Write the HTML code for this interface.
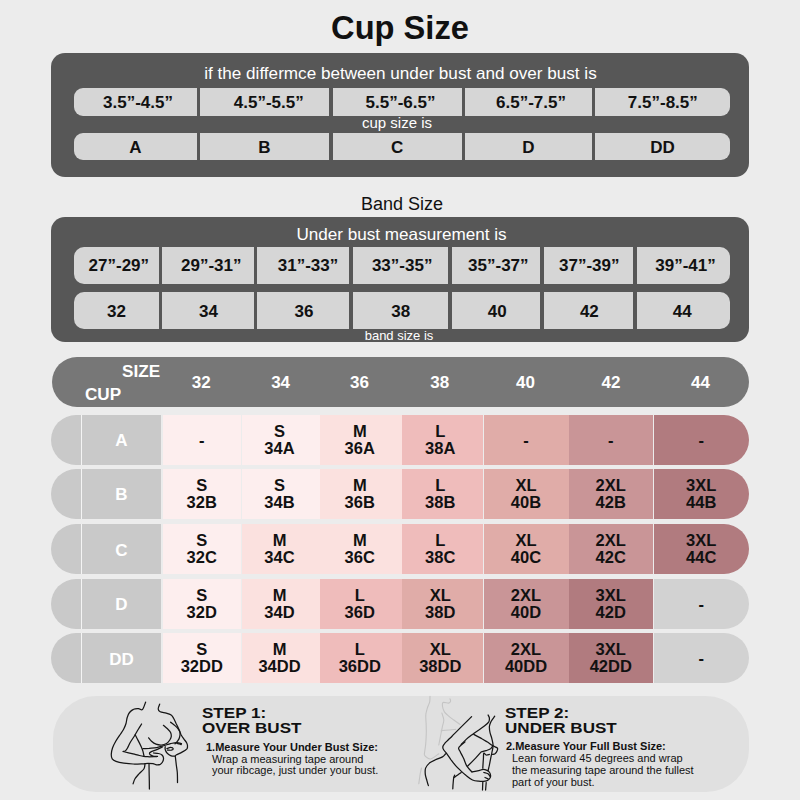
<!DOCTYPE html>
<html><head><meta charset="utf-8"><style>
*{margin:0;padding:0;box-sizing:border-box}
html,body{width:800px;height:800px;overflow:hidden;background:#ececec}
body{position:relative;font-family:"Liberation Sans",Arial,sans-serif;color:#111}
.a{position:absolute}
.t{position:absolute;white-space:nowrap;line-height:1}
.panel{position:absolute;background:#575757;border-radius:14px}
.c{position:absolute;background:#d6d6d6;display:flex;align-items:center;justify-content:center;font-weight:bold;font-size:17px;color:#111}
.w{color:#fff}
.hd{position:absolute;background:#777777;border-radius:25px}
.hn{position:absolute;top:370.6px;font-weight:bold;font-size:17px;color:#fff;width:60px;text-align:center;line-height:24px}
.row{position:absolute;left:51px;width:698px;height:50px}
.lb{position:absolute;left:0;top:0;width:110px;height:50px;background:#c9c9c9;border-radius:25px 0 0 25px}
.lbt{position:absolute;left:31px;top:0;width:79px;height:50px;display:flex;align-items:center;justify-content:center;color:#fff;font-weight:bold;font-size:17px}
.ln{position:absolute;left:30px;top:0;width:1px;height:50px;background:#f4f4f4}
.k{position:absolute;top:0;height:50px;display:flex;align-items:center;justify-content:center;text-align:center;font-weight:bold;font-size:16.5px;line-height:16.6px;color:#111}
.pill{position:absolute;left:52.5px;top:695.5px;width:696px;height:96.3px;background:#e0e0e0;border-radius:43px}
</style></head><body>

<div class="t" style="left:0;width:800px;text-align:center;top:9.5px;font-size:34px;font-weight:bold;transform:scaleX(0.96)">Cup Size</div>
<div class="panel" style="left:51px;top:53px;width:698px;height:124px"></div>
<div class="t w" style="left:0;width:801px;text-align:center;top:65.1px;font-size:17.12px">if the differmce between under bust and over bust is</div>
<div class="c" style="left:74px;top:88px;width:123px;height:27.5px;border-radius:9px 0 0 9px;padding:2px 0 0 5px">3.5”-4.5”</div>
<div class="c" style="left:200px;top:88px;width:129px;height:27.5px;padding:2px 0 0 5px"><span style="position:relative;left:1.8px">4.5”-5.5”</span></div>
<div class="c" style="left:332.5px;top:88px;width:129.5px;height:27.5px;padding:2px 0 0 5px"><span style="position:relative;left:0.8px">5.5”-6.5”</span></div>
<div class="c" style="left:465px;top:88px;width:127px;height:27.5px;padding:2px 0 0 5px">6.5”-7.5”</div>
<div class="c" style="left:595px;top:88px;width:135px;height:27.5px;border-radius:0 9px 9px 0;padding:2px 0 0 5px"><span style="position:relative;left:-2.2px">7.5”-8.5”</span></div>
<div class="t w" style="left:0;width:794px;text-align:center;top:115.3px;font-size:15px">cup size is</div>
<div class="c" style="left:74px;top:132.5px;width:123px;height:27.5px;border-radius:9px 0 0 9px;padding-top:4px">A</div>
<div class="c" style="left:200px;top:132.5px;width:129px;height:27.5px;padding-top:4px">B</div>
<div class="c" style="left:332.5px;top:132.5px;width:129.5px;height:27.5px;padding-top:4px">C</div>
<div class="c" style="left:465px;top:132.5px;width:127px;height:27.5px;padding-top:4px">D</div>
<div class="c" style="left:595px;top:132.5px;width:135px;height:27.5px;border-radius:0 9px 9px 0;padding-top:4px">DD</div>
<div class="t" style="left:0;width:804px;text-align:center;top:195.4px;font-size:18px">Band Size</div>
<div class="panel" style="left:51px;top:217px;width:698px;height:124.5px"></div>
<div class="t w" style="left:0;width:803px;text-align:center;top:226.1px;font-size:17.12px">Under bust measurement is</div>
<div class="c" style="left:74px;top:247px;width:85px;height:37px;border-radius:10px 0 0 10px;padding:1px 0 0 3px"><span style="position:relative;left:0.85px">27”-29”</span></div>
<div class="c" style="left:162px;top:247px;width:92px;height:37px;padding:1px 0 0 3px"><span style="position:relative;left:1.8px">29”-31”</span></div>
<div class="c" style="left:257px;top:247px;width:92.30000000000001px;height:37px;padding:1px 0 0 3px"><span style="position:relative;left:3.4px">31”-33”</span></div>
<div class="c" style="left:353px;top:247px;width:95.30000000000001px;height:37px;padding:1px 0 0 3px">33”-35”</div>
<div class="c" style="left:451.7px;top:247px;width:88.30000000000001px;height:37px;padding:1px 0 0 3px"><span style="position:relative;left:1px">35”-37”</span></div>
<div class="c" style="left:544px;top:247px;width:89px;height:37px;padding:1px 0 0 3px"><span style="position:relative;left:-0.75px">37”-39”</span></div>
<div class="c" style="left:637px;top:247px;width:93px;height:37px;border-radius:0 10px 10px 0;padding:1px 0 0 3px"><span style="position:relative;left:0.5px">39”-41”</span></div>
<div class="c" style="left:74px;top:292.3px;width:85px;height:36.6px;border-radius:10px 0 0 10px;padding-top:3px">32</div>
<div class="c" style="left:162px;top:292.3px;width:92px;height:36.6px;padding-top:3px"><span style="position:relative;left:0.5px">34</span></div>
<div class="c" style="left:257px;top:292.3px;width:92.30000000000001px;height:36.6px;padding-top:3px"><span style="position:relative;left:0.9px">36</span></div>
<div class="c" style="left:353px;top:292.3px;width:95.30000000000001px;height:36.6px;padding-top:3px">38</div>
<div class="c" style="left:451.7px;top:292.3px;width:88.30000000000001px;height:36.6px;padding-top:3px"><span style="position:relative;left:1.35px">40</span></div>
<div class="c" style="left:544px;top:292.3px;width:89px;height:36.6px;padding-top:3px"><span style="position:relative;left:0.85px">42</span></div>
<div class="c" style="left:637px;top:292.3px;width:93px;height:36.6px;border-radius:0 10px 10px 0;padding-top:3px"><span style="position:relative;left:-1.35px">44</span></div>
<div class="t w" style="left:0;width:798px;text-align:center;top:328.75px;font-size:13px">band size is</div>
<div class="hd" style="left:52px;top:357px;width:697px;height:49.5px"></div>
<div class="t w" style="left:122px;top:364.4px;font-size:16px;font-weight:bold;transform:scaleX(1.07);transform-origin:0 0">SIZE</div>
<div class="t w" style="left:84.8px;top:387.0px;font-size:16px;font-weight:bold;transform:scaleX(1.07);transform-origin:0 0">CUP</div>
<div class="hn" style="left:171.3px">32</div>
<div class="hn" style="left:250.60000000000002px">34</div>
<div class="hn" style="left:329.4px">36</div>
<div class="hn" style="left:409.8px">38</div>
<div class="hn" style="left:495.5px">40</div>
<div class="hn" style="left:580.9px">42</div>
<div class="hn" style="left:670.5px">44</div>
<div class="row" style="top:415px">
<div class="lb"></div><div class="ln"></div><div class="lbt" style="padding-top:2px">A</div>
<div class="k" style="left:111.5px;width:78.5px;background:#fdeeee;">-</div>
<div class="k" style="left:191px;width:78px;background:#fdeeee;padding-right:3.0px;">S<br>34A</div>
<div class="k" style="left:269px;width:81.5px;background:#fbe1df;padding-right:2px;">M<br>36A</div>
<div class="k" style="left:351px;width:80.5px;background:#efbcbb;padding-right:4px;">L<br>38A</div>
<div class="k" style="left:432.5px;width:85.0px;background:#e0aca8;">-</div>
<div class="k" style="left:517.5px;width:84.5px;background:#c99597;">-</div>
<div class="k" style="left:603px;width:94.5px;background:#b17b7f;border-radius:0 25px 25px 0;">-</div>
</div>
<div class="row" style="top:469px">
<div class="lb"></div><div class="ln"></div><div class="lbt" style="padding-top:2px">B</div>
<div class="k" style="left:111.5px;width:78.5px;background:#fdeeee;">S<br>32B</div>
<div class="k" style="left:191px;width:78px;background:#fdeeee;padding-right:3.0px;">S<br>34B</div>
<div class="k" style="left:269px;width:81.5px;background:#fbe1df;padding-right:2px;">M<br>36B</div>
<div class="k" style="left:351px;width:80.5px;background:#efbcbb;padding-right:4px;">L<br>38B</div>
<div class="k" style="left:432.5px;width:85.0px;background:#e0aca8;">XL<br>40B</div>
<div class="k" style="left:517.5px;width:84.5px;background:#c99597;">2XL<br>42B</div>
<div class="k" style="left:603px;width:94.5px;background:#b17b7f;border-radius:0 25px 25px 0;">3XL<br>44B</div>
</div>
<div class="row" style="top:524px">
<div class="lb"></div><div class="ln"></div><div class="lbt" style="padding-top:4px">C</div>
<div class="k" style="left:111.5px;width:78.5px;background:#fdeeee;">S<br>32C</div>
<div class="k" style="left:191px;width:78px;background:#fbe1df;padding-right:3.0px;">M<br>34C</div>
<div class="k" style="left:269px;width:81.5px;background:#fbe1df;padding-right:2px;">M<br>36C</div>
<div class="k" style="left:351px;width:80.5px;background:#efbcbb;padding-right:4px;">L<br>38C</div>
<div class="k" style="left:432.5px;width:85.0px;background:#e0aca8;">XL<br>40C</div>
<div class="k" style="left:517.5px;width:84.5px;background:#c99597;">2XL<br>42C</div>
<div class="k" style="left:603px;width:94.5px;background:#b17b7f;border-radius:0 25px 25px 0;">3XL<br>44C</div>
</div>
<div class="row" style="top:579px">
<div class="lb"></div><div class="ln"></div><div class="lbt" style="padding-top:2px">D</div>
<div class="k" style="left:111.5px;width:78.5px;background:#fdeeee;">S<br>32D</div>
<div class="k" style="left:191px;width:78px;background:#fbe1df;padding-right:3.0px;">M<br>34D</div>
<div class="k" style="left:269px;width:81.5px;background:#efbcbb;padding-right:2px;">L<br>36D</div>
<div class="k" style="left:351px;width:80.5px;background:#e0aca8;padding-right:4px;">XL<br>38D</div>
<div class="k" style="left:432.5px;width:85.0px;background:#c99597;">2XL<br>40D</div>
<div class="k" style="left:517.5px;width:84.5px;background:#b17b7f;">3XL<br>42D</div>
<div class="k" style="left:603px;width:94.5px;background:#d2d2d2;border-radius:0 25px 25px 0;">-</div>
</div>
<div class="row" style="top:633px">
<div class="lb"></div><div class="ln"></div><div class="lbt" style="padding-top:4px">DD</div>
<div class="k" style="left:111.5px;width:78.5px;background:#fdeeee;">S<br>32DD</div>
<div class="k" style="left:191px;width:78px;background:#fbe1df;padding-right:3.0px;">M<br>34DD</div>
<div class="k" style="left:269px;width:81.5px;background:#efbcbb;padding-right:2px;">L<br>36DD</div>
<div class="k" style="left:351px;width:80.5px;background:#e0aca8;padding-right:4px;">XL<br>38DD</div>
<div class="k" style="left:432.5px;width:85.0px;background:#c99597;">2XL<br>40DD</div>
<div class="k" style="left:517.5px;width:84.5px;background:#b17b7f;">3XL<br>42DD</div>
<div class="k" style="left:603px;width:94.5px;background:#d2d2d2;border-radius:0 25px 25px 0;">-</div>
</div>
<div class="pill"></div>
<div class="t" style="left:201.6px;top:705.3px;font-size:15.5px;font-weight:bold;line-height:15px;transform:scaleX(1.1);transform-origin:0 0">STEP 1:<br>OVER BUST</div>
<div class="t" style="left:206px;top:741.5px;font-size:11px;font-weight:bold;line-height:11.5px">1.Measure Your Under Bust Size:</div>
<div class="t" style="left:212px;top:754.2px;font-size:11px;line-height:11.3px">Wrap a measuring tape around<br>your ribcage, just under your bust.</div>
<div class="t" style="left:505.4px;top:705.3px;font-size:15.5px;font-weight:bold;line-height:15px;transform:scaleX(1.1);transform-origin:0 0">STEP 2:<br>UNDER BUST</div>
<div class="t" style="left:506px;top:740.5px;font-size:11px;font-weight:bold;line-height:11.7px">2.Measure Your Full Bust Size:</div>
<div class="t" style="left:512px;top:753.2px;font-size:11px;line-height:11.7px">Lean forward 45 degrees and wrap<br>the measuring tape around the fullest<br>part of your bust.</div>
<svg class="a" style="left:0;top:0" width="800" height="800" viewBox="0 0 800 800" fill="none" stroke-linecap="round" stroke-linejoin="round">
<g stroke="#c4c4c4" stroke-width="1.1">
<path d="M430.0 696.2C429.9 697.2 430.1 700.0 429.7 701.9C429.3 703.8 428.1 705.5 427.5 707.5C426.9 709.5 426.2 711.7 425.9 713.8C425.6 715.8 425.8 717.9 425.9 720.0C426.0 722.1 426.2 723.6 426.2 726.2C426.3 728.9 426.4 732.5 426.2 735.6C426.1 738.7 425.9 742.4 425.6 745.0C425.3 747.6 424.9 749.8 424.7 751.5C424.5 753.2 424.1 754.0 424.5 755.0C424.9 756.0 425.8 756.9 426.9 757.5C428.0 758.1 429.3 759.4 431.2 758.8C433.2 758.1 437.5 754.6 438.8 753.8"/>
<path d="M450.0 698.8C450.1 699.2 450.8 700.5 450.6 701.2C450.4 702.0 450.0 702.9 448.8 703.1C447.5 703.3 444.1 702.0 443.1 702.5C442.1 703.0 442.3 704.7 442.5 706.2C442.7 707.8 443.4 710.2 444.4 711.9C445.4 713.6 447.2 714.9 448.8 716.2C450.3 717.6 451.9 718.6 453.8 720.0C455.6 721.4 459.0 723.7 460.0 724.4"/>
<path d="M441.9 713.1C442.2 714.2 443.6 717.8 443.8 720.0C443.9 722.2 442.9 724.2 442.5 726.2C442.1 728.3 441.7 730.4 441.2 732.5C440.8 734.6 440.4 736.7 440.0 738.8C439.6 740.8 439.0 744.0 438.8 745.0"/>
<path d="M441.2 730.6C442.6 730.5 447.0 730.2 449.4 730.0C451.8 729.8 454.6 729.5 455.6 729.4"/>
<path d="M421.5 768.0C421.2 769.2 420.4 772.4 420.0 775.0C419.6 777.6 419.0 782.3 418.8 783.8"/>
</g><g stroke="#151515" stroke-width="1.25">
<path d="M145.6 702.2C145.1 703.4 143.6 708.5 142.4 709.6C141.2 710.7 140.0 708.7 138.5 708.6C137.0 708.5 135.0 708.6 133.5 709.3C132.0 709.9 130.6 711.1 129.5 712.5C128.4 713.9 127.8 715.7 127.2 717.5C126.6 719.3 126.6 721.5 126.0 723.5C125.4 725.5 124.6 727.5 123.5 729.5C122.4 731.5 120.7 733.6 119.4 735.6C118.1 737.6 116.8 739.4 115.6 741.5C114.4 743.6 113.2 745.9 112.5 748.0C111.8 750.1 111.3 752.2 111.3 754.0C111.2 755.8 111.4 757.6 112.2 758.8C113.0 760.0 114.1 760.7 116.0 761.4C117.9 762.1 120.9 762.7 123.8 763.1C126.6 763.5 130.0 763.9 133.1 764.0C136.2 764.1 140.0 763.9 142.5 763.8C145.0 763.7 146.2 763.4 148.0 763.4C149.8 763.4 151.6 763.4 153.0 763.6C154.4 763.8 155.3 764.7 156.5 764.8C157.7 764.9 159.1 764.9 160.2 764.4C161.2 763.9 162.2 762.6 162.8 761.5C163.4 760.4 163.6 759.1 163.5 758.0C163.4 756.9 162.8 755.8 162.0 755.0C161.2 754.2 159.9 753.8 158.5 753.5C157.1 753.2 154.3 753.1 153.5 753.0"/>
<path d="M141.6 724.0C141.1 724.8 139.6 727.2 138.5 729.0C137.4 730.8 136.3 732.8 135.0 735.0C133.7 737.2 131.8 739.8 130.5 742.0C129.2 744.2 128.3 746.6 127.5 748.0C126.7 749.4 126.3 750.0 125.6 750.6C124.9 751.2 123.6 751.4 123.2 751.5"/>
<path d="M135.2 734.8C135.7 735.8 137.2 738.7 138.2 740.6C139.2 742.5 140.2 744.5 141.0 746.2C141.8 748.0 142.4 749.5 142.9 751.1C143.4 752.7 143.8 755.2 144.0 756.0"/>
<path d="M123.2 751.5C124.8 751.9 130.6 753.3 133.1 753.9C135.6 754.5 136.4 754.8 138.2 755.2C139.9 755.6 141.8 756.1 143.6 756.4C145.4 756.7 147.1 756.7 149.2 756.8C151.4 756.8 155.5 756.6 156.8 756.6"/>
<path d="M151.5 751.6C151.2 751.8 149.8 752.3 149.6 752.8C149.4 753.3 149.6 754.3 150.2 754.8C150.8 755.3 151.8 755.7 153.0 756.0C154.2 756.3 156.8 756.3 157.5 756.4"/>
<path d="M142.9 748.5C144.0 748.5 146.9 748.4 149.2 748.3C151.6 748.1 154.2 748.1 156.8 747.6C159.2 747.1 161.9 746.2 164.2 745.5C166.6 744.8 168.5 744.1 170.6 743.6C172.7 743.1 175.1 742.5 176.9 742.5C178.7 742.5 180.7 743.3 181.5 743.5"/>
<path d="M151.5 751.5C152.4 751.2 154.9 750.4 156.8 749.6C158.6 748.9 161.5 747.4 162.4 747.0"/>
<path d="M159.7 704.1C159.4 704.9 158.1 707.7 158.2 709.0C158.3 710.3 158.9 711.1 160.2 711.8C161.5 712.5 164.4 712.6 166.2 713.1C168.1 713.6 170.0 714.1 171.2 715.0C172.5 715.9 172.8 716.8 173.6 718.3C174.4 719.8 175.3 721.8 176.2 723.8C177.2 725.7 178.4 728.1 179.2 730.0C180.0 731.9 180.5 733.5 181.2 735.0C182.0 736.5 182.9 737.6 183.8 738.9C184.6 740.1 185.9 741.4 186.5 742.5C187.1 743.6 187.4 744.5 187.5 745.5C187.6 746.5 187.7 747.7 186.9 748.8C186.1 749.8 184.3 750.9 182.5 751.9C180.7 752.9 177.6 754.3 176.2 755.0C174.9 755.7 175.3 756.1 174.4 756.2C173.5 756.3 171.8 756.1 170.6 755.6C169.4 755.1 167.9 754.0 167.0 753.0C166.1 752.0 165.5 750.6 165.2 749.5C164.9 748.4 165.2 747.0 165.2 746.5"/>
<path d="M170.6 722.2C171.3 722.8 173.8 724.5 175.0 725.6C176.2 726.7 177.3 727.6 178.1 728.8C178.9 729.9 179.8 731.0 180.0 732.5C180.2 734.0 179.9 736.0 179.5 737.5C179.1 739.0 178.2 740.2 177.5 741.2C176.8 742.2 175.4 743.4 175.0 743.8"/>
<path d="M163.4 725.3C164.1 725.9 166.3 727.6 167.5 728.8C168.7 730.0 170.0 731.2 170.6 732.5C171.2 733.8 171.4 735.0 171.3 736.3C171.2 737.5 170.6 738.8 169.8 740.0C169.0 741.2 167.9 742.7 166.5 743.5C165.1 744.3 163.2 744.9 161.5 745.0C159.8 745.1 157.7 744.8 156.0 744.2C154.3 743.6 152.7 742.3 151.5 741.2C150.3 740.1 149.1 738.4 148.6 737.8"/>
<path d="M166.9 748.6C167.5 748.4 169.6 747.4 170.6 747.4C171.6 747.4 173.1 748.1 173.2 748.6C173.3 749.1 172.3 750.0 171.4 750.2C170.5 750.4 168.2 750.0 167.5 750.0"/>
<path d="M176.9 743.4C177.3 743.5 178.8 743.6 179.5 743.8C180.2 744.0 181.0 744.5 181.3 744.6"/>
<path d="M175.3 756.3C175.5 757.8 176.0 762.3 176.3 765.0C176.6 767.7 177.1 769.6 177.3 772.5C177.5 775.4 177.5 780.8 177.5 782.5"/>
<path d="M145.0 763.8C144.8 764.6 145.0 767.1 144.0 768.8C143.0 770.5 140.5 772.1 139.0 773.8C137.5 775.5 136.0 777.1 135.0 778.8C134.0 780.5 133.4 783.0 133.1 783.8"/>
<path d="M149.0 763.8C149.0 765.8 149.1 771.8 149.2 776.0C149.3 780.2 149.4 786.8 149.4 789.0"/>
<path d="M471.6 716.6C469.7 718.5 463.3 724.8 460.0 728.1C456.7 731.4 454.0 734.2 452.0 736.2C450.0 738.2 449.4 738.7 448.1 740.0C446.8 741.3 445.3 742.6 444.4 743.8C443.5 744.9 442.9 745.9 442.8 746.9C442.7 747.9 443.1 748.9 443.8 750.0C444.4 751.1 445.6 752.1 446.9 753.8C448.1 755.4 449.8 758.0 451.2 760.0C452.7 762.0 454.0 763.8 455.6 765.6C457.2 767.4 458.8 768.9 460.6 770.6C462.4 772.3 464.3 774.0 466.2 775.6C468.2 777.2 470.4 779.1 472.5 780.0C474.6 780.9 476.7 781.0 478.8 781.2C480.8 781.5 483.5 781.4 485.0 781.2C486.5 781.1 487.0 780.8 487.8 780.3C488.6 779.8 489.5 778.8 490.0 778.0C490.5 777.2 490.7 776.4 490.6 775.5C490.5 774.6 490.2 773.4 489.6 772.5C489.0 771.6 488.1 770.9 487.0 770.4C485.9 769.9 484.5 769.4 483.1 769.4C481.7 769.4 480.6 770.2 478.8 770.6C476.9 771.0 473.0 771.7 471.9 771.9"/>
<path d="M488.1 715.0C488.3 715.5 489.3 717.0 489.4 718.1C489.5 719.2 489.5 720.6 488.8 721.9C488.0 723.1 486.7 724.2 485.0 725.6C483.3 727.0 480.8 728.5 478.8 730.0C476.7 731.5 474.6 732.8 472.5 734.4C470.4 736.0 468.1 737.7 466.2 739.4C464.4 741.1 462.1 743.6 461.2 744.4"/>
<path d="M473.8 734.4C475.1 735.1 479.7 737.5 481.9 738.8C484.1 740.0 485.2 740.7 487.0 741.8C488.8 742.9 490.8 744.5 492.5 745.6C494.2 746.7 496.8 747.2 497.5 748.1C498.2 749.0 497.3 750.3 496.9 751.2C496.5 752.2 495.7 753.2 495.0 753.8C494.3 754.3 492.9 754.3 492.5 754.4"/>
<path d="M494.7 716.2C494.1 717.1 492.1 719.6 491.2 721.2C490.4 722.9 489.6 724.4 489.4 726.2C489.2 728.1 489.6 730.4 490.0 732.5C490.4 734.6 491.4 736.6 491.9 738.8C492.4 740.9 493.1 743.3 493.1 745.6C493.1 747.9 492.3 750.3 491.9 752.5C491.5 754.7 491.0 756.7 490.6 758.8C490.2 760.8 489.8 763.0 489.4 765.0C489.0 767.0 488.3 769.7 488.1 770.6"/>
<path d="M481.9 751.6C482.6 751.4 484.8 751.1 486.2 750.6C487.7 750.1 489.6 749.5 490.6 748.8C491.6 748.0 492.2 746.7 492.5 746.2"/>
<path d="M489.4 754.4C488.9 754.5 487.2 755.2 486.2 755.0C485.3 754.8 484.2 752.5 483.8 753.1C483.3 753.7 483.6 756.2 483.4 758.8C483.2 761.2 482.9 766.5 482.8 768.1"/>
<path d="M465.0 741.9C464.0 742.8 459.6 745.9 458.8 747.5C457.9 749.1 459.4 749.8 460.0 751.2C460.6 752.7 461.9 755.0 462.5 756.2C463.1 757.5 463.0 757.1 463.8 758.8C464.5 760.4 465.5 764.1 466.9 766.2C468.3 768.4 471.1 771.0 471.9 771.9"/>
<path d="M481.2 751.9C480.3 752.9 477.9 755.7 475.6 758.1C473.3 760.5 468.9 764.9 467.5 766.2"/>
<path d="M445.6 753.8C445.1 754.3 444.3 755.9 442.5 756.9C440.7 757.9 437.2 759.0 435.0 760.0C432.8 761.0 431.0 761.8 429.4 763.1C427.8 764.5 426.3 766.2 425.6 768.1C424.9 770.0 425.1 772.3 425.3 774.4C425.5 776.5 426.4 778.7 426.9 780.6C427.4 782.5 428.1 784.8 428.4 785.6"/>
<path d="M461.2 772.5C460.2 773.2 456.2 776.1 455.0 776.9C453.8 777.7 454.1 776.4 453.8 777.5C453.4 778.6 453.3 781.9 453.1 783.8C452.9 785.6 452.9 787.9 452.8 788.8"/>
<path d="M454.6 775.2L453.8 777.5"/>
<path d="M483.8 772.5C484.5 772.7 487.0 773.2 488.0 773.8C489.0 774.4 489.7 775.9 490.0 776.3"/>
<path d="M485.0 777.5L488.1 778.8"/>
<path d="M482.8 781.9L482.5 790.0"/>
<path d="M486.2 782.5L485.6 790.0"/>
</g></svg>
</body></html>
